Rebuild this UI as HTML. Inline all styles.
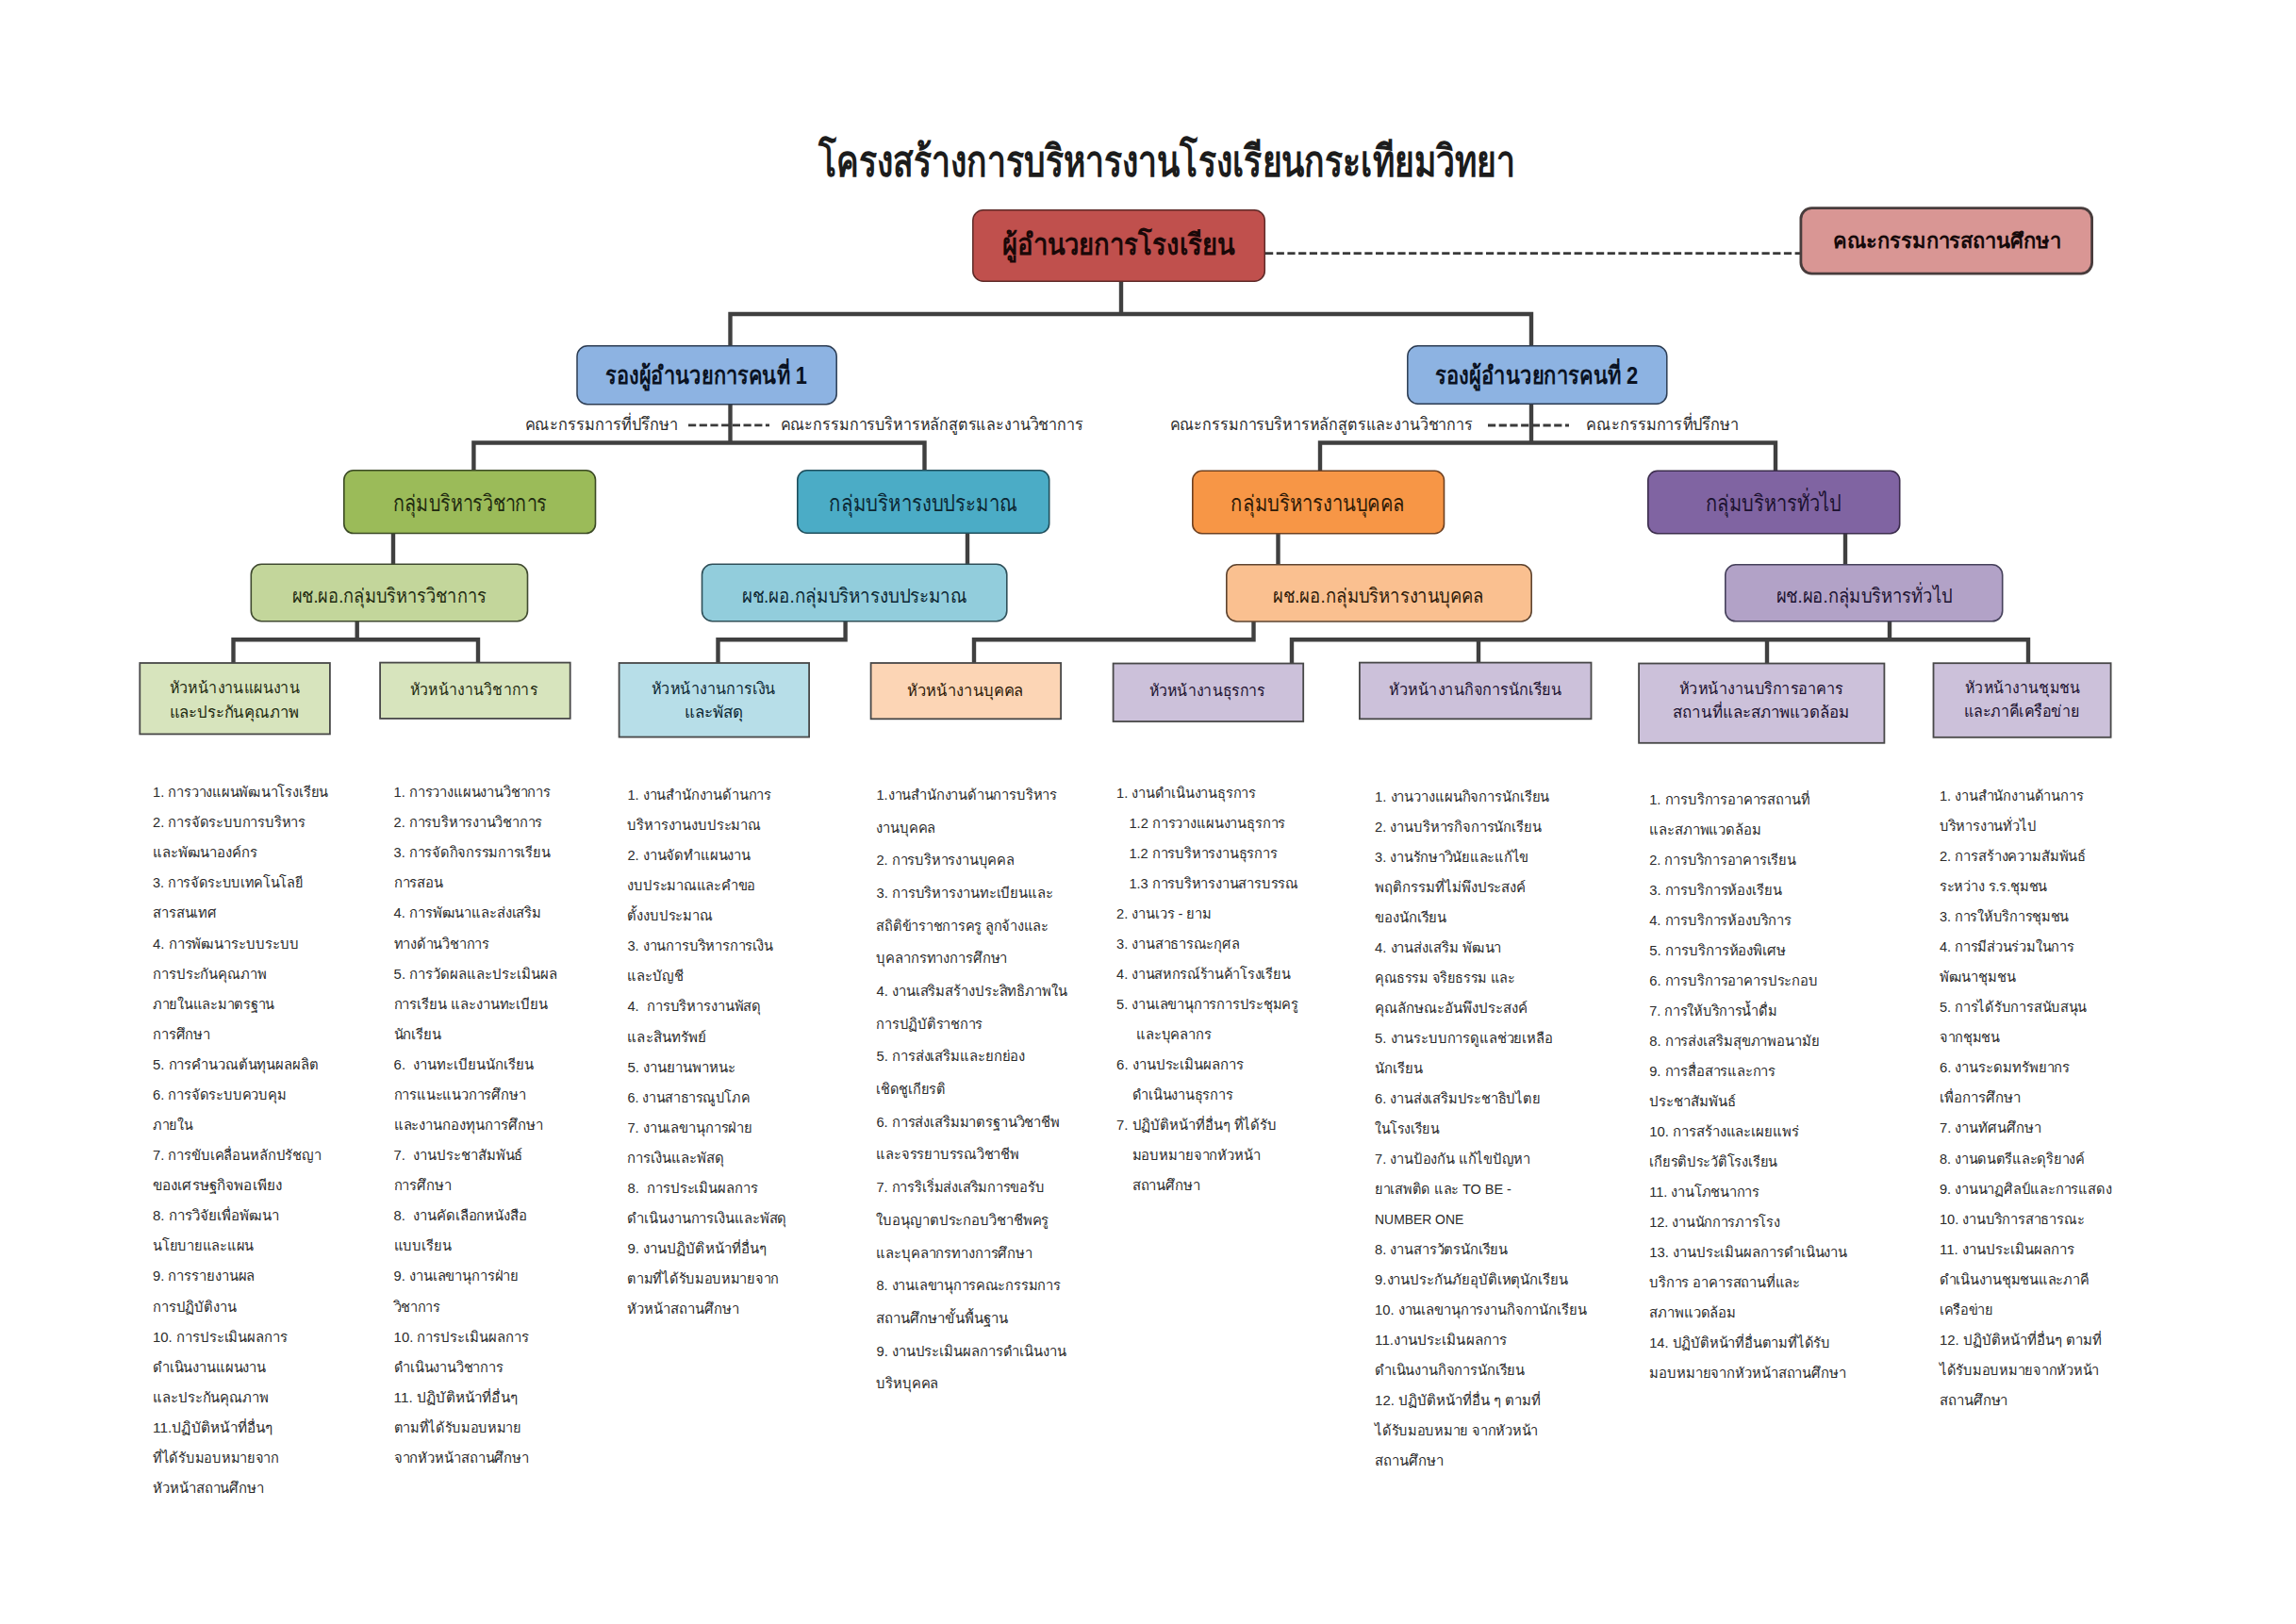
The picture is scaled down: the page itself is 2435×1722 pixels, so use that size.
<!DOCTYPE html>
<html><head><meta charset="utf-8"><title>โครงสร้างการบริหารงานโรงเรียนกระเทียมวิทยา</title>
<style>
html,body{margin:0;padding:0;background:#ffffff;}
body{width:2435px;height:1722px;overflow:hidden;}
svg{display:block;}
text{font-family:"Liberation Sans",sans-serif;white-space:pre;}
.li{fill:#2b2b2b;stroke:#2b2b2b;stroke-width:0.15;}
.bx{fill:#1c1c1c;stroke:#1c1c1c;stroke-width:0.15;}
.bd{stroke-width:1.1;}
.tt{stroke-width:1.4;}
html.thai .li,html.thai .bx,html.thai .bd,html.thai .tt{stroke-width:0;}
</style>
<script>
(function(){try{var c=document.createElement('canvas').getContext('2d');c.font='100px "Liberation Sans"';
var a=c.measureText('กขคง').width,b=c.measureText('๜๝๞๟').width;
if(Math.abs(a-b)>2&&Math.abs(a-300)>2){document.documentElement.className+=' thai';}}catch(e){}})();
</script></head><body>
<svg width="2435" height="1722" viewBox="0 0 2435 1722">
<rect x="0" y="0" width="2435" height="1722" fill="#ffffff"/>
<path d="M1189,298 V333" fill="none" stroke="#404040" stroke-width="4.4" stroke-linejoin="miter" stroke-linecap="butt"/>
<path d="M774.5,367 V333 H1624 V367" fill="none" stroke="#404040" stroke-width="4.4" stroke-linejoin="miter" stroke-linecap="butt"/>
<path d="M774.5,429 V469.5" fill="none" stroke="#404040" stroke-width="4.4" stroke-linejoin="miter" stroke-linecap="butt"/>
<path d="M502.4,499 V469.5 H980.5 V499" fill="none" stroke="#404040" stroke-width="4.4" stroke-linejoin="miter" stroke-linecap="butt"/>
<path d="M1624,428 V469.5" fill="none" stroke="#404040" stroke-width="4.4" stroke-linejoin="miter" stroke-linecap="butt"/>
<path d="M1400,499 V469.5 H1883 V499" fill="none" stroke="#404040" stroke-width="4.4" stroke-linejoin="miter" stroke-linecap="butt"/>
<path d="M417,565 V598" fill="none" stroke="#404040" stroke-width="4.4" stroke-linejoin="miter" stroke-linecap="butt"/>
<path d="M1026,565 V598" fill="none" stroke="#404040" stroke-width="4.4" stroke-linejoin="miter" stroke-linecap="butt"/>
<path d="M1355.5,565 V598" fill="none" stroke="#404040" stroke-width="4.4" stroke-linejoin="miter" stroke-linecap="butt"/>
<path d="M1957,565 V598" fill="none" stroke="#404040" stroke-width="4.4" stroke-linejoin="miter" stroke-linecap="butt"/>
<path d="M378.7,658 V678.2" fill="none" stroke="#404040" stroke-width="4.4" stroke-linejoin="miter" stroke-linecap="butt"/>
<path d="M247.5,703 V678.2 H507 V703" fill="none" stroke="#404040" stroke-width="4.4" stroke-linejoin="miter" stroke-linecap="butt"/>
<path d="M896.6,658 V678.2 H761.5 V703" fill="none" stroke="#404040" stroke-width="4.4" stroke-linejoin="miter" stroke-linecap="butt"/>
<path d="M1329.5,658 V678.2 H1033 V703" fill="none" stroke="#404040" stroke-width="4.4" stroke-linejoin="miter" stroke-linecap="butt"/>
<path d="M2004,658 V678.2" fill="none" stroke="#404040" stroke-width="4.4" stroke-linejoin="miter" stroke-linecap="butt"/>
<path d="M1370,703 V678.2 H2151 V703" fill="none" stroke="#404040" stroke-width="4.4" stroke-linejoin="miter" stroke-linecap="butt"/>
<path d="M1568,678 V703" fill="none" stroke="#404040" stroke-width="4.4" stroke-linejoin="miter" stroke-linecap="butt"/>
<path d="M1874,678 V703" fill="none" stroke="#404040" stroke-width="4.4" stroke-linejoin="miter" stroke-linecap="butt"/>
<path d="M1342,268.7 H1909" fill="none" stroke="#3a3a3a" stroke-width="2.8" stroke-dasharray="8.2 3.5"/>
<path d="M730,450.8 H816" fill="none" stroke="#3a3a3a" stroke-width="2.8" stroke-dasharray="8.2 3.5"/>
<path d="M1578,451 H1664" fill="none" stroke="#3a3a3a" stroke-width="2.8" stroke-dasharray="8.2 3.5"/>
<text x="868.0" y="187.0" font-size="46" textLength="739.0" lengthAdjust="spacingAndGlyphs" class="bx tt" font-weight="bold">โครงสร้างการบริหารงานโรงเรียนกระเทียมวิทยา</text>
<rect x="1031.8" y="222.8" width="309.5" height="75.5" rx="11" fill="#C0504D" stroke="#5e2a28" stroke-width="1.5"/>
<text x="1063.0" y="270.0" font-size="31" textLength="247.0" lengthAdjust="spacingAndGlyphs" class="bx bd" style="fill:#1a0808;stroke:#1a0808" font-weight="bold">ผู้อำนวยการโรงเรียน</text>
<rect x="1909.9" y="220.6" width="308.7" height="69.5" rx="11.5" fill="#D99694" stroke="#483c3c" stroke-width="2.8"/>
<text x="1944.0" y="263.0" font-size="22" textLength="242.0" lengthAdjust="spacingAndGlyphs" class="bx bd" style="fill:#160a0a;stroke:#160a0a" font-weight="bold">คณะกรรมการสถานศึกษา</text>
<rect x="612.0" y="366.8" width="275.2" height="62.0" rx="11" fill="#8DB3E2" stroke="#2c3c52" stroke-width="1.5"/>
<text x="641.8" y="406.8" font-size="26" textLength="214.1" lengthAdjust="spacingAndGlyphs" class="bx bd" style="fill:#0a1222;stroke:#0a1222" font-weight="bold">รองผู้อำนวยการคนที่ 1</text>
<rect x="1492.8" y="366.8" width="275.0" height="61.5" rx="11" fill="#8DB3E2" stroke="#2c3c52" stroke-width="1.5"/>
<text x="1522.0" y="406.5" font-size="26" textLength="215.3" lengthAdjust="spacingAndGlyphs" class="bx bd" style="fill:#0a1222;stroke:#0a1222" font-weight="bold">รองผู้อำนวยการคนที่ 2</text>
<text x="556.5" y="455.5" font-size="18" textLength="162.2" lengthAdjust="spacingAndGlyphs" class="li">คณะกรรมการที่ปรึกษา</text>
<text x="827.5" y="455.5" font-size="18" textLength="321.3" lengthAdjust="spacingAndGlyphs" class="li">คณะกรรมการบริหารหลักสูตรและงานวิชาการ</text>
<text x="1240.5" y="455.5" font-size="18" textLength="321.4" lengthAdjust="spacingAndGlyphs" class="li">คณะกรรมการบริหารหลักสูตรและงานวิชาการ</text>
<text x="1682.4" y="455.5" font-size="18" textLength="161.8" lengthAdjust="spacingAndGlyphs" class="li">คณะกรรมการที่ปรึกษา</text>
<rect x="364.8" y="498.8" width="266.7" height="66.7" rx="10" fill="#9BBB59" stroke="#3b4a24" stroke-width="1.6"/>
<text x="416.9" y="541.6" font-size="24" textLength="163.1" lengthAdjust="spacingAndGlyphs" class="bx" style="fill:#1f2a10;stroke:#1f2a10">กลุ่มบริหารวิชาการ</text>
<rect x="845.8" y="498.8" width="266.9" height="66.4" rx="10" fill="#4BACC6" stroke="#1f4f5c" stroke-width="1.6"/>
<text x="879.4" y="541.6" font-size="24" textLength="198.9" lengthAdjust="spacingAndGlyphs" class="bx" style="fill:#0c2733;stroke:#0c2733">กลุ่มบริหารงบประมาณ</text>
<rect x="1264.8" y="499.3" width="266.7" height="66.4" rx="10" fill="#F79646" stroke="#6e4020" stroke-width="1.6"/>
<text x="1305.3" y="541.6" font-size="24" textLength="184.6" lengthAdjust="spacingAndGlyphs" class="bx" style="fill:#2e1a08;stroke:#2e1a08">กลุ่มบริหารงานบุคคล</text>
<rect x="1747.8" y="499.3" width="266.9" height="66.4" rx="10" fill="#8064A2" stroke="#3b2c4c" stroke-width="1.6"/>
<text x="1809.0" y="541.6" font-size="24" textLength="143.2" lengthAdjust="spacingAndGlyphs" class="bx" style="fill:#1c1230;stroke:#1c1230">กลุ่มบริหารทั่วไป</text>
<rect x="266.3" y="598.3" width="293.2" height="60.4" rx="11" fill="#C3D69B" stroke="#404a30" stroke-width="1.6"/>
<text x="309.9" y="638.8" font-size="21" textLength="206.0" lengthAdjust="spacingAndGlyphs" class="bx" style="fill:#1f2a10;stroke:#1f2a10">ผช.ผอ.กลุ่มบริหารวิชาการ</text>
<rect x="744.5" y="598.3" width="323.3" height="60.4" rx="11" fill="#92CDDC" stroke="#2f4f58" stroke-width="1.6"/>
<text x="786.8" y="638.8" font-size="21" textLength="238.2" lengthAdjust="spacingAndGlyphs" class="bx" style="fill:#0c2733;stroke:#0c2733">ผช.ผอ.กลุ่มบริหารงบประมาณ</text>
<rect x="1300.8" y="598.8" width="323.4" height="60.2" rx="11" fill="#FAC090" stroke="#5e4430" stroke-width="1.6"/>
<text x="1350.4" y="638.8" font-size="21" textLength="223.5" lengthAdjust="spacingAndGlyphs" class="bx" style="fill:#2e1a08;stroke:#2e1a08">ผช.ผอ.กลุ่มบริหารงานบุคคล</text>
<rect x="1829.8" y="598.8" width="293.9" height="60.0" rx="11" fill="#B2A2C7" stroke="#45405a" stroke-width="1.6"/>
<text x="1883.8" y="638.8" font-size="21" textLength="186.9" lengthAdjust="spacingAndGlyphs" class="bx" style="fill:#1c1230;stroke:#1c1230">ผช.ผอ.กลุ่มบริหารทั่วไป</text>
<rect x="148.3" y="703.0" width="201.6" height="75.4" rx="0" fill="#D7E4BD" stroke="#484848" stroke-width="1.8"/>
<text x="179.6" y="735.2" font-size="17" textLength="138.6" lengthAdjust="spacingAndGlyphs" class="bx" style="fill:#1f2a10;stroke:#1f2a10">หัวหน้างานแผนงาน</text>
<text x="179.6" y="760.6" font-size="17" textLength="137.7" lengthAdjust="spacingAndGlyphs" class="bx" style="fill:#1f2a10;stroke:#1f2a10">และประกันคุณภาพ</text>
<rect x="403.1" y="702.6" width="201.6" height="59.3" rx="0" fill="#D7E4BD" stroke="#484848" stroke-width="1.8"/>
<text x="434.9" y="737.0" font-size="17" textLength="135.0" lengthAdjust="spacingAndGlyphs" class="bx" style="fill:#1f2a10;stroke:#1f2a10">หัวหน้างานวิชาการ</text>
<rect x="656.6" y="703.0" width="201.5" height="78.5" rx="0" fill="#B7DEE8" stroke="#484848" stroke-width="1.8"/>
<text x="691.0" y="735.5" font-size="17" textLength="131.5" lengthAdjust="spacingAndGlyphs" class="bx" style="fill:#0c2733;stroke:#0c2733">หัวหน้างานการเงิน</text>
<text x="725.8" y="760.7" font-size="17" textLength="61.9" lengthAdjust="spacingAndGlyphs" class="bx" style="fill:#0c2733;stroke:#0c2733">และพัสดุ</text>
<rect x="923.6" y="703.0" width="201.5" height="59.3" rx="0" fill="#FCD5B5" stroke="#484848" stroke-width="1.8"/>
<text x="961.9" y="737.7" font-size="17" textLength="123.2" lengthAdjust="spacingAndGlyphs" class="bx" style="fill:#2e1a08;stroke:#2e1a08">หัวหน้างานบุคคล</text>
<rect x="1180.6" y="703.5" width="201.6" height="61.5" rx="0" fill="#CCC1DA" stroke="#484848" stroke-width="1.8"/>
<text x="1218.5" y="737.7" font-size="17" textLength="123.2" lengthAdjust="spacingAndGlyphs" class="bx" style="fill:#1c1230;stroke:#1c1230">หัวหน้างานธุรการ</text>
<rect x="1441.9" y="702.6" width="245.6" height="59.7" rx="0" fill="#CCC1DA" stroke="#484848" stroke-width="1.8"/>
<text x="1473.3" y="737.0" font-size="17" textLength="182.9" lengthAdjust="spacingAndGlyphs" class="bx" style="fill:#1c1230;stroke:#1c1230">หัวหน้างานกิจการนักเรียน</text>
<rect x="1738.1" y="703.5" width="260.3" height="84.3" rx="0" fill="#CCC1DA" stroke="#484848" stroke-width="1.8"/>
<text x="1780.7" y="735.5" font-size="17" textLength="174.3" lengthAdjust="spacingAndGlyphs" class="bx" style="fill:#1c1230;stroke:#1c1230">หัวหน้างานบริการอาคาร</text>
<text x="1774.2" y="760.7" font-size="17" textLength="186.8" lengthAdjust="spacingAndGlyphs" class="bx" style="fill:#1c1230;stroke:#1c1230">สถานที่และสภาพแวดล้อม</text>
<rect x="2050.5" y="703.2" width="188.1" height="78.6" rx="0" fill="#CCC1DA" stroke="#484848" stroke-width="1.8"/>
<text x="2084.2" y="735.3" font-size="17" textLength="121.9" lengthAdjust="spacingAndGlyphs" class="bx" style="fill:#1c1230;stroke:#1c1230">หัวหน้างานชุมชน</text>
<text x="2083.1" y="760.3" font-size="17" textLength="122.4" lengthAdjust="spacingAndGlyphs" class="bx" style="fill:#1c1230;stroke:#1c1230">และภาคีเครือข่าย</text>
<text x="162.0" y="845.0" font-size="15" textLength="186.2" lengthAdjust="spacingAndGlyphs" class="li">1. การวางแผนพัฒนาโรงเรียน</text>
<text x="162.0" y="877.1" font-size="15" textLength="162.0" lengthAdjust="spacingAndGlyphs" class="li">2. การจัดระบบการบริหาร</text>
<text x="162.0" y="909.2" font-size="15" textLength="110.9" lengthAdjust="spacingAndGlyphs" class="li">และพัฒนาองค์กร</text>
<text x="162.0" y="941.3" font-size="15" textLength="159.4" lengthAdjust="spacingAndGlyphs" class="li">3. การจัดระบบเทคโนโลยี</text>
<text x="162.0" y="973.4" font-size="15" textLength="68.0" lengthAdjust="spacingAndGlyphs" class="li">สารสนเทศ</text>
<text x="162.0" y="1005.5" font-size="15" textLength="155.0" lengthAdjust="spacingAndGlyphs" class="li">4. การพัฒนาระบบระบบ</text>
<text x="162.0" y="1037.5" font-size="15" textLength="120.6" lengthAdjust="spacingAndGlyphs" class="li">การประกันคุณภาพ</text>
<text x="162.0" y="1069.6" font-size="15" textLength="129.1" lengthAdjust="spacingAndGlyphs" class="li">ภายในและมาตรฐาน</text>
<text x="162.0" y="1101.7" font-size="15" textLength="61.0" lengthAdjust="spacingAndGlyphs" class="li">การศึกษา</text>
<text x="162.0" y="1133.8" font-size="15" textLength="175.8" lengthAdjust="spacingAndGlyphs" class="li">5. การคำนวณต้นทุนผลผลิต</text>
<text x="162.0" y="1165.9" font-size="15" textLength="141.6" lengthAdjust="spacingAndGlyphs" class="li">6. การจัดระบบควบคุม</text>
<text x="162.0" y="1198.0" font-size="15" textLength="42.2" lengthAdjust="spacingAndGlyphs" class="li">ภายใน</text>
<text x="162.0" y="1230.1" font-size="15" textLength="178.8" lengthAdjust="spacingAndGlyphs" class="li">7. การขับเคลื่อนหลักปรัชญา</text>
<text x="162.0" y="1262.2" font-size="15" textLength="137.1" lengthAdjust="spacingAndGlyphs" class="li">ของเศรษฐกิจพอเพียง</text>
<text x="162.0" y="1294.3" font-size="15" textLength="133.7" lengthAdjust="spacingAndGlyphs" class="li">8. การวิจัยเพื่อพัฒนา</text>
<text x="162.0" y="1326.3" font-size="15" textLength="107.0" lengthAdjust="spacingAndGlyphs" class="li">นโยบายและแผน</text>
<text x="162.0" y="1358.4" font-size="15" textLength="108.4" lengthAdjust="spacingAndGlyphs" class="li">9. การรายงานผล</text>
<text x="162.0" y="1390.5" font-size="15" textLength="88.5" lengthAdjust="spacingAndGlyphs" class="li">การปฏิบัติงาน</text>
<text x="162.0" y="1422.6" font-size="15" textLength="143.1" lengthAdjust="spacingAndGlyphs" class="li">10. การประเมินผลการ</text>
<text x="162.0" y="1454.7" font-size="15" textLength="120.0" lengthAdjust="spacingAndGlyphs" class="li">ดำเนินงานแผนงาน</text>
<text x="162.0" y="1486.8" font-size="15" textLength="122.9" lengthAdjust="spacingAndGlyphs" class="li">และประกันคุณภาพ</text>
<text x="162.0" y="1518.9" font-size="15" textLength="127.6" lengthAdjust="spacingAndGlyphs" class="li">11.ปฏิบัติหน้าที่อื่นๆ</text>
<text x="162.0" y="1551.0" font-size="15" textLength="134.0" lengthAdjust="spacingAndGlyphs" class="li">ที่ได้รับมอบหมายจาก</text>
<text x="162.0" y="1583.1" font-size="15" textLength="118.1" lengthAdjust="spacingAndGlyphs" class="li">หัวหน้าสถานศึกษา</text>
<text x="417.6" y="845.0" font-size="15" textLength="166.3" lengthAdjust="spacingAndGlyphs" class="li">1. การวางแผนงานวิชาการ</text>
<text x="417.6" y="877.1" font-size="15" textLength="157.6" lengthAdjust="spacingAndGlyphs" class="li">2. การบริหารงานวิชาการ</text>
<text x="417.6" y="909.2" font-size="15" textLength="165.9" lengthAdjust="spacingAndGlyphs" class="li">3. การจัดกิจกรรมการเรียน</text>
<text x="417.6" y="941.3" font-size="15" textLength="52.5" lengthAdjust="spacingAndGlyphs" class="li">การสอน</text>
<text x="417.6" y="973.4" font-size="15" textLength="156.5" lengthAdjust="spacingAndGlyphs" class="li">4. การพัฒนาและส่งเสริม</text>
<text x="417.6" y="1005.5" font-size="15" textLength="101.3" lengthAdjust="spacingAndGlyphs" class="li">ทางด้านวิชาการ</text>
<text x="417.6" y="1037.5" font-size="15" textLength="173.0" lengthAdjust="spacingAndGlyphs" class="li">5. การวัดผลและประเมินผล</text>
<text x="417.6" y="1069.6" font-size="15" textLength="163.4" lengthAdjust="spacingAndGlyphs" class="li">การเรียน และงานทะเบียน</text>
<text x="417.6" y="1101.7" font-size="15" textLength="50.5" lengthAdjust="spacingAndGlyphs" class="li">นักเรียน</text>
<text x="417.6" y="1133.8" font-size="15" textLength="148.0" lengthAdjust="spacingAndGlyphs" class="li">6.  งานทะเบียนนักเรียน</text>
<text x="417.6" y="1165.9" font-size="15" textLength="139.8" lengthAdjust="spacingAndGlyphs" class="li">การแนะแนวการศึกษา</text>
<text x="417.6" y="1198.0" font-size="15" textLength="157.9" lengthAdjust="spacingAndGlyphs" class="li">และงานกองทุนการศึกษา</text>
<text x="417.6" y="1230.1" font-size="15" textLength="136.8" lengthAdjust="spacingAndGlyphs" class="li">7.  งานประชาสัมพันธ์</text>
<text x="417.6" y="1262.2" font-size="15" textLength="61.0" lengthAdjust="spacingAndGlyphs" class="li">การศึกษา</text>
<text x="417.6" y="1294.3" font-size="15" textLength="141.3" lengthAdjust="spacingAndGlyphs" class="li">8.  งานคัดเลือกหนังสือ</text>
<text x="417.6" y="1326.3" font-size="15" textLength="60.8" lengthAdjust="spacingAndGlyphs" class="li">แบบเรียน</text>
<text x="417.6" y="1358.4" font-size="15" textLength="132.6" lengthAdjust="spacingAndGlyphs" class="li">9. งานเลขานุการฝ่าย</text>
<text x="417.6" y="1390.5" font-size="15" textLength="49.4" lengthAdjust="spacingAndGlyphs" class="li">วิชาการ</text>
<text x="417.6" y="1422.6" font-size="15" textLength="143.1" lengthAdjust="spacingAndGlyphs" class="li">10. การประเมินผลการ</text>
<text x="417.6" y="1454.7" font-size="15" textLength="115.9" lengthAdjust="spacingAndGlyphs" class="li">ดำเนินงานวิชาการ</text>
<text x="417.6" y="1486.8" font-size="15" textLength="131.4" lengthAdjust="spacingAndGlyphs" class="li">11. ปฏิบัติหน้าที่อื่นๆ</text>
<text x="417.6" y="1518.9" font-size="15" textLength="135.3" lengthAdjust="spacingAndGlyphs" class="li">ตามที่ได้รับมอบหมาย</text>
<text x="417.6" y="1551.0" font-size="15" textLength="143.5" lengthAdjust="spacingAndGlyphs" class="li">จากหัวหน้าสถานศึกษา</text>
<text x="665.4" y="847.8" font-size="15" textLength="152.7" lengthAdjust="spacingAndGlyphs" class="li">1. งานสำนักงานด้านการ</text>
<text x="665.4" y="879.9" font-size="15" textLength="141.4" lengthAdjust="spacingAndGlyphs" class="li">บริหารงานงบประมาณ</text>
<text x="665.4" y="912.0" font-size="15" textLength="130.6" lengthAdjust="spacingAndGlyphs" class="li">2. งานจัดทำแผนงาน</text>
<text x="665.4" y="944.1" font-size="15" textLength="135.9" lengthAdjust="spacingAndGlyphs" class="li">งบประมาณและคำขอ</text>
<text x="665.4" y="976.2" font-size="15" textLength="90.4" lengthAdjust="spacingAndGlyphs" class="li">ตั้งงบประมาณ</text>
<text x="665.4" y="1008.2" font-size="15" textLength="154.5" lengthAdjust="spacingAndGlyphs" class="li">3. งานการบริหารการเงิน</text>
<text x="665.4" y="1040.3" font-size="15" textLength="59.2" lengthAdjust="spacingAndGlyphs" class="li">และบัญชี</text>
<text x="665.4" y="1072.4" font-size="15" textLength="141.8" lengthAdjust="spacingAndGlyphs" class="li">4.  การบริหารงานพัสดุ</text>
<text x="665.4" y="1104.5" font-size="15" textLength="83.8" lengthAdjust="spacingAndGlyphs" class="li">และสินทรัพย์</text>
<text x="665.4" y="1136.6" font-size="15" textLength="115.0" lengthAdjust="spacingAndGlyphs" class="li">5. งานยานพาหนะ</text>
<text x="665.4" y="1168.7" font-size="15" textLength="129.9" lengthAdjust="spacingAndGlyphs" class="li">6. งานสาธารณูปโภค</text>
<text x="665.4" y="1200.8" font-size="15" textLength="132.6" lengthAdjust="spacingAndGlyphs" class="li">7. งานเลขานุการฝ่าย</text>
<text x="665.4" y="1232.9" font-size="15" textLength="102.5" lengthAdjust="spacingAndGlyphs" class="li">การเงินและพัสดุ</text>
<text x="665.4" y="1265.0" font-size="15" textLength="138.3" lengthAdjust="spacingAndGlyphs" class="li">8.  การประเมินผลการ</text>
<text x="665.4" y="1297.1" font-size="15" textLength="168.9" lengthAdjust="spacingAndGlyphs" class="li">ดำเนินงานการเงินและพัสดุ</text>
<text x="665.4" y="1329.2" font-size="15" textLength="147.5" lengthAdjust="spacingAndGlyphs" class="li">9. งานปฏิบัติหน้าที่อื่นๆ</text>
<text x="665.4" y="1361.2" font-size="15" textLength="160.7" lengthAdjust="spacingAndGlyphs" class="li">ตามที่ได้รับมอบหมายจาก</text>
<text x="665.4" y="1393.3" font-size="15" textLength="118.1" lengthAdjust="spacingAndGlyphs" class="li">หัวหน้าสถานศึกษา</text>
<text x="929.4" y="847.8" font-size="15" textLength="191.8" lengthAdjust="spacingAndGlyphs" class="li">1.งานสำนักงานด้านการบริหาร</text>
<text x="929.4" y="882.5" font-size="15" textLength="62.9" lengthAdjust="spacingAndGlyphs" class="li">งานบุคคล</text>
<text x="929.4" y="917.2" font-size="15" textLength="146.4" lengthAdjust="spacingAndGlyphs" class="li">2. การบริหารงานบุคคล</text>
<text x="929.4" y="951.9" font-size="15" textLength="187.4" lengthAdjust="spacingAndGlyphs" class="li">3. การบริหารงานทะเบียนและ</text>
<text x="929.4" y="986.6" font-size="15" textLength="182.6" lengthAdjust="spacingAndGlyphs" class="li">สถิติข้าราชการครู ลูกจ้างและ</text>
<text x="929.4" y="1021.2" font-size="15" textLength="138.9" lengthAdjust="spacingAndGlyphs" class="li">บุคลากรทางการศึกษา</text>
<text x="929.4" y="1055.9" font-size="15" textLength="202.4" lengthAdjust="spacingAndGlyphs" class="li">4. งานเสริมสร้างประสิทธิภาพใน</text>
<text x="929.4" y="1090.6" font-size="15" textLength="112.7" lengthAdjust="spacingAndGlyphs" class="li">การปฏิบัติราชการ</text>
<text x="929.4" y="1125.3" font-size="15" textLength="157.9" lengthAdjust="spacingAndGlyphs" class="li">5. การส่งเสริมและยกย่อง</text>
<text x="929.4" y="1160.0" font-size="15" textLength="73.2" lengthAdjust="spacingAndGlyphs" class="li">เชิดชูเกียรติ</text>
<text x="929.4" y="1194.7" font-size="15" textLength="194.4" lengthAdjust="spacingAndGlyphs" class="li">6. การส่งเสริมมาตรฐานวิชาชีพ</text>
<text x="929.4" y="1229.4" font-size="15" textLength="151.3" lengthAdjust="spacingAndGlyphs" class="li">และจรรยาบรรณวิชาชีพ</text>
<text x="929.4" y="1264.1" font-size="15" textLength="178.2" lengthAdjust="spacingAndGlyphs" class="li">7. การริเริ่มส่งเสริมการขอรับ</text>
<text x="929.4" y="1298.8" font-size="15" textLength="183.0" lengthAdjust="spacingAndGlyphs" class="li">ใบอนุญาตประกอบวิชาชีพครู</text>
<text x="929.4" y="1333.5" font-size="15" textLength="165.5" lengthAdjust="spacingAndGlyphs" class="li">และบุคลากรทางการศึกษา</text>
<text x="929.4" y="1368.1" font-size="15" textLength="195.2" lengthAdjust="spacingAndGlyphs" class="li">8. งานเลขานุการคณะกรรมการ</text>
<text x="929.4" y="1402.8" font-size="15" textLength="139.2" lengthAdjust="spacingAndGlyphs" class="li">สถานศึกษาขั้นพื้นฐาน</text>
<text x="929.4" y="1437.5" font-size="15" textLength="201.4" lengthAdjust="spacingAndGlyphs" class="li">9. งานประเมินผลการดำเนินงาน</text>
<text x="929.4" y="1472.2" font-size="15" textLength="65.8" lengthAdjust="spacingAndGlyphs" class="li">บริหบุคคล</text>
<text x="1184.1" y="845.9" font-size="15" textLength="147.9" lengthAdjust="spacingAndGlyphs" class="li">1. งานดำเนินงานธุรการ</text>
<text x="1197.4" y="877.9" font-size="15" textLength="165.9" lengthAdjust="spacingAndGlyphs" class="li">1.2 การวางแผนงานธุรการ</text>
<text x="1197.4" y="910.0" font-size="15" textLength="157.2" lengthAdjust="spacingAndGlyphs" class="li">1.2 การบริหารงานธุรการ</text>
<text x="1197.4" y="942.0" font-size="15" textLength="179.5" lengthAdjust="spacingAndGlyphs" class="li">1.3 การบริหารงานสารบรรณ</text>
<text x="1184.1" y="974.0" font-size="15" textLength="100.8" lengthAdjust="spacingAndGlyphs" class="li">2. งานเวร - ยาม</text>
<text x="1184.1" y="1006.0" font-size="15" textLength="130.5" lengthAdjust="spacingAndGlyphs" class="li">3. งานสาธารณะกุศล</text>
<text x="1184.1" y="1038.1" font-size="15" textLength="184.2" lengthAdjust="spacingAndGlyphs" class="li">4. งานสหกรณ์ร้านค้าโรงเรียน</text>
<text x="1184.1" y="1070.1" font-size="15" textLength="192.9" lengthAdjust="spacingAndGlyphs" class="li">5. งานเลขานุการการประชุมครู</text>
<text x="1205.0" y="1102.1" font-size="15" textLength="79.5" lengthAdjust="spacingAndGlyphs" class="li">และบุคลากร</text>
<text x="1184.1" y="1134.2" font-size="15" textLength="135.0" lengthAdjust="spacingAndGlyphs" class="li">6. งานประเมินผลการ</text>
<text x="1200.6" y="1166.2" font-size="15" textLength="106.8" lengthAdjust="spacingAndGlyphs" class="li">ดำเนินงานธุรการ</text>
<text x="1184.1" y="1198.2" font-size="15" textLength="170.0" lengthAdjust="spacingAndGlyphs" class="li">7. ปฏิบัติหน้าที่อื่นๆ ที่ได้รับ</text>
<text x="1200.6" y="1230.3" font-size="15" textLength="136.1" lengthAdjust="spacingAndGlyphs" class="li">มอบหมายจากหัวหน้า</text>
<text x="1200.6" y="1262.3" font-size="15" textLength="72.5" lengthAdjust="spacingAndGlyphs" class="li">สถานศึกษา</text>
<text x="1458.1" y="849.6" font-size="15" textLength="185.2" lengthAdjust="spacingAndGlyphs" class="li">1. งานวางแผนกิจการนักเรียน</text>
<text x="1458.1" y="881.6" font-size="15" textLength="176.5" lengthAdjust="spacingAndGlyphs" class="li">2. งานบริหารกิจการนักเรียน</text>
<text x="1458.1" y="913.7" font-size="15" textLength="163.1" lengthAdjust="spacingAndGlyphs" class="li">3. งานรักษาวินัยและแก้ไข</text>
<text x="1458.1" y="945.7" font-size="15" textLength="160.2" lengthAdjust="spacingAndGlyphs" class="li">พฤติกรรมที่ไม่พึงประสงค์</text>
<text x="1458.1" y="977.7" font-size="15" textLength="76.1" lengthAdjust="spacingAndGlyphs" class="li">ของนักเรียน</text>
<text x="1458.1" y="1009.8" font-size="15" textLength="134.3" lengthAdjust="spacingAndGlyphs" class="li">4. งานส่งเสริม พัฒนา</text>
<text x="1458.1" y="1041.8" font-size="15" textLength="148.6" lengthAdjust="spacingAndGlyphs" class="li">คุณธรรม จริยธรรม และ</text>
<text x="1458.1" y="1073.8" font-size="15" textLength="162.2" lengthAdjust="spacingAndGlyphs" class="li">คุณลักษณะอันพึงประสงค์</text>
<text x="1458.1" y="1105.8" font-size="15" textLength="188.7" lengthAdjust="spacingAndGlyphs" class="li">5. งานระบบการดูแลช่วยเหลือ</text>
<text x="1458.1" y="1137.9" font-size="15" textLength="50.5" lengthAdjust="spacingAndGlyphs" class="li">นักเรียน</text>
<text x="1458.1" y="1169.9" font-size="15" textLength="175.3" lengthAdjust="spacingAndGlyphs" class="li">6. งานส่งเสริมประชาธิปไตย</text>
<text x="1458.1" y="1201.9" font-size="15" textLength="68.0" lengthAdjust="spacingAndGlyphs" class="li">ในโรงเรียน</text>
<text x="1458.1" y="1234.0" font-size="15" textLength="165.0" lengthAdjust="spacingAndGlyphs" class="li">7. งานป้องกัน แก้ไขปัญหา</text>
<text x="1458.1" y="1266.0" font-size="15" textLength="144.8" lengthAdjust="spacingAndGlyphs" class="li">ยาเสพติด และ TO BE -</text>
<text x="1458.1" y="1298.0" font-size="15" textLength="94.1" lengthAdjust="spacingAndGlyphs" class="li">NUMBER ONE</text>
<text x="1458.1" y="1330.1" font-size="15" textLength="141.0" lengthAdjust="spacingAndGlyphs" class="li">8. งานสารวัตรนักเรียน</text>
<text x="1458.1" y="1362.1" font-size="15" textLength="204.9" lengthAdjust="spacingAndGlyphs" class="li">9.งานประกันภัยอุบัติเหตุนักเรียน</text>
<text x="1458.1" y="1394.1" font-size="15" textLength="224.5" lengthAdjust="spacingAndGlyphs" class="li">10. งานเลขานุการงานกิจกานักเรียน</text>
<text x="1458.1" y="1426.1" font-size="15" textLength="139.8" lengthAdjust="spacingAndGlyphs" class="li">11.งานประเมินผลการ</text>
<text x="1458.1" y="1458.2" font-size="15" textLength="158.9" lengthAdjust="spacingAndGlyphs" class="li">ดำเนินงานกิจการนักเรียน</text>
<text x="1458.1" y="1490.2" font-size="15" textLength="176.1" lengthAdjust="spacingAndGlyphs" class="li">12. ปฏิบัติหน้าที่อื่น ๆ ตามที่</text>
<text x="1458.1" y="1522.2" font-size="15" textLength="173.0" lengthAdjust="spacingAndGlyphs" class="li">ได้รับมอบหมาย จากหัวหน้า</text>
<text x="1458.1" y="1554.3" font-size="15" textLength="72.5" lengthAdjust="spacingAndGlyphs" class="li">สถานศึกษา</text>
<text x="1749.2" y="852.5" font-size="15" textLength="170.2" lengthAdjust="spacingAndGlyphs" class="li">1. การบริการอาคารสถานที่</text>
<text x="1749.2" y="884.5" font-size="15" textLength="118.6" lengthAdjust="spacingAndGlyphs" class="li">และสภาพแวดล้อม</text>
<text x="1749.2" y="916.6" font-size="15" textLength="155.5" lengthAdjust="spacingAndGlyphs" class="li">2. การบริการอาคารเรียน</text>
<text x="1749.2" y="948.6" font-size="15" textLength="140.3" lengthAdjust="spacingAndGlyphs" class="li">3. การบริการห้องเรียน</text>
<text x="1749.2" y="980.6" font-size="15" textLength="150.8" lengthAdjust="spacingAndGlyphs" class="li">4. การบริการห้องบริการ</text>
<text x="1749.2" y="1012.6" font-size="15" textLength="145.1" lengthAdjust="spacingAndGlyphs" class="li">5. การบริการห้องพิเศษ</text>
<text x="1749.2" y="1044.7" font-size="15" textLength="178.7" lengthAdjust="spacingAndGlyphs" class="li">6. การบริการอาคารประกอบ</text>
<text x="1749.2" y="1076.7" font-size="15" textLength="135.0" lengthAdjust="spacingAndGlyphs" class="li">7. การให้บริการน้ำดื่ม</text>
<text x="1749.2" y="1108.7" font-size="15" textLength="180.4" lengthAdjust="spacingAndGlyphs" class="li">8. การส่งเสริมสุขภาพอนามัย</text>
<text x="1749.2" y="1140.8" font-size="15" textLength="134.0" lengthAdjust="spacingAndGlyphs" class="li">9. การสื่อสารและการ</text>
<text x="1749.2" y="1172.8" font-size="15" textLength="91.9" lengthAdjust="spacingAndGlyphs" class="li">ประชาสัมพันธ์</text>
<text x="1749.2" y="1204.8" font-size="15" textLength="158.8" lengthAdjust="spacingAndGlyphs" class="li">10. การสร้างและเผยแพร่</text>
<text x="1749.2" y="1236.9" font-size="15" textLength="135.9" lengthAdjust="spacingAndGlyphs" class="li">เกียรติประวัติโรงเรียน</text>
<text x="1749.2" y="1268.9" font-size="15" textLength="116.7" lengthAdjust="spacingAndGlyphs" class="li">11. งานโภชนาการ</text>
<text x="1749.2" y="1300.9" font-size="15" textLength="138.5" lengthAdjust="spacingAndGlyphs" class="li">12. งานนักการภารโรง</text>
<text x="1749.2" y="1333.0" font-size="15" textLength="210.0" lengthAdjust="spacingAndGlyphs" class="li">13. งานประเมินผลการดำเนินงาน</text>
<text x="1749.2" y="1365.0" font-size="15" textLength="159.9" lengthAdjust="spacingAndGlyphs" class="li">บริการ อาคารสถานที่และ</text>
<text x="1749.2" y="1397.0" font-size="15" textLength="92.0" lengthAdjust="spacingAndGlyphs" class="li">สภาพแวดล้อม</text>
<text x="1749.2" y="1429.0" font-size="15" textLength="191.8" lengthAdjust="spacingAndGlyphs" class="li">14. ปฏิบัติหน้าที่อื่นตามที่ได้รับ</text>
<text x="1749.2" y="1461.1" font-size="15" textLength="208.6" lengthAdjust="spacingAndGlyphs" class="li">มอบหมายจากหัวหน้าสถานศึกษา</text>
<text x="2056.9" y="849.1" font-size="15" textLength="152.7" lengthAdjust="spacingAndGlyphs" class="li">1. งานสำนักงานด้านการ</text>
<text x="2056.9" y="881.1" font-size="15" textLength="102.4" lengthAdjust="spacingAndGlyphs" class="li">บริหารงานทั่วไป</text>
<text x="2056.9" y="913.2" font-size="15" textLength="155.3" lengthAdjust="spacingAndGlyphs" class="li">2. การสร้างความสัมพันธ์</text>
<text x="2056.9" y="945.2" font-size="15" textLength="114.3" lengthAdjust="spacingAndGlyphs" class="li">ระหว่าง ร.ร.ชุมชน</text>
<text x="2056.9" y="977.2" font-size="15" textLength="137.1" lengthAdjust="spacingAndGlyphs" class="li">3. การให้บริการชุมชน</text>
<text x="2056.9" y="1009.2" font-size="15" textLength="142.8" lengthAdjust="spacingAndGlyphs" class="li">4. การมีส่วนร่วมในการ</text>
<text x="2056.9" y="1041.3" font-size="15" textLength="80.6" lengthAdjust="spacingAndGlyphs" class="li">พัฒนาชุมชน</text>
<text x="2056.9" y="1073.3" font-size="15" textLength="156.3" lengthAdjust="spacingAndGlyphs" class="li">5. การได้รับการสนับสนุน</text>
<text x="2056.9" y="1105.3" font-size="15" textLength="64.0" lengthAdjust="spacingAndGlyphs" class="li">จากชุมชน</text>
<text x="2056.9" y="1137.4" font-size="15" textLength="138.4" lengthAdjust="spacingAndGlyphs" class="li">6. งานระดมทรัพยากร</text>
<text x="2056.9" y="1169.4" font-size="15" textLength="86.3" lengthAdjust="spacingAndGlyphs" class="li">เพื่อการศึกษา</text>
<text x="2056.9" y="1201.4" font-size="15" textLength="107.6" lengthAdjust="spacingAndGlyphs" class="li">7. งานทัศนศึกษา</text>
<text x="2056.9" y="1233.5" font-size="15" textLength="154.1" lengthAdjust="spacingAndGlyphs" class="li">8. งานดนตรีและดุริยางค์</text>
<text x="2056.9" y="1265.5" font-size="15" textLength="182.5" lengthAdjust="spacingAndGlyphs" class="li">9. งานนาฏศิลป์และการแสดง</text>
<text x="2056.9" y="1297.5" font-size="15" textLength="153.5" lengthAdjust="spacingAndGlyphs" class="li">10. งานบริการสาธารณะ</text>
<text x="2056.9" y="1329.6" font-size="15" textLength="143.6" lengthAdjust="spacingAndGlyphs" class="li">11. งานประเมินผลการ</text>
<text x="2056.9" y="1361.6" font-size="15" textLength="158.4" lengthAdjust="spacingAndGlyphs" class="li">ดำเนินงานชุมชนและภาคี</text>
<text x="2056.9" y="1393.6" font-size="15" textLength="57.0" lengthAdjust="spacingAndGlyphs" class="li">เครือข่าย</text>
<text x="2056.9" y="1425.6" font-size="15" textLength="172.2" lengthAdjust="spacingAndGlyphs" class="li">12. ปฏิบัติหน้าที่อื่นๆ ตามที่</text>
<text x="2056.9" y="1457.7" font-size="15" textLength="169.2" lengthAdjust="spacingAndGlyphs" class="li">ได้รับมอบหมายจากหัวหน้า</text>
<text x="2056.9" y="1489.7" font-size="15" textLength="72.5" lengthAdjust="spacingAndGlyphs" class="li">สถานศึกษา</text>
</svg>
</body></html>
